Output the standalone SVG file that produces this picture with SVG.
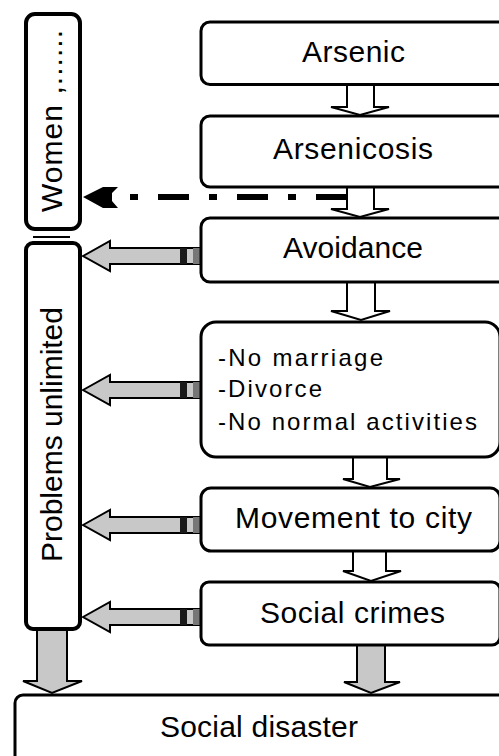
<svg xmlns="http://www.w3.org/2000/svg" width="499" height="756" viewBox="0 0 499 756">
<style>
.box{fill:#fff;stroke:#000;stroke-width:3}
.vbox{fill:#fff;stroke:#000;stroke-width:4}
.t{font-family:"Liberation Sans",Arial,sans-serif;font-size:30px;fill:#000}
.tl{font-family:"Liberation Sans",Arial,sans-serif;font-size:24px;fill:#000}
.wa{fill:#fff;stroke:#000;stroke-width:2}
.ga{fill:#c8c8c8;stroke:#000;stroke-width:2}
</style>
<defs>
<g id="harrow">
<path class="ga" d="M83,0 L110,-15 L110,-8 L200,-8 L200,8 L110,8 L110,15 Z"/>
<rect x="180" y="-8" width="7" height="16" fill="#1a1a1a"/>
<rect x="193" y="-8" width="7" height="16" fill="#777"/>
</g>
</defs>
<rect width="499" height="756" fill="#fff"/>
<g id="connectors">
<path class="wa" d="M347,84 V107 H331 L360,115 L389,107 H374 V84 Z"/>
<path class="wa" d="M347,187 V209 H331 L360,217 L389,209 H374 V187 Z"/>
<path class="wa" d="M347,282 V311 H331 L361,320 L390,311 H375 V282 Z"/>
<path class="wa" d="M353,457 V479 H343 L370,487 L400,479 H387 V457 Z"/>
<path class="wa" d="M353,551 V571 H343 L371,581 L401,571 H386 V551 Z"/>
<path class="ga" d="M357,645 V682 H344 L371,693 L400,682 H385 V645 Z"/>
<path class="ga" d="M37,630 V681 H23 L52,693 L82,681 H67 V630 Z"/>
<use href="#harrow" y="256"/>
<use href="#harrow" y="390"/>
<use href="#harrow" y="525"/>
<use href="#harrow" y="617"/>
<path d="M347,197 H118" stroke="#000" stroke-width="6" fill="none" stroke-dasharray="31 20 8 20"/>
<path d="M83,197 L103,187 L118,187 L112,193 L112,201 L118,208 L103,208 Z" fill="#000"/>
</g>
<g id="women">
<rect class="vbox" x="26" y="14" width="54" height="215" rx="9"/>
<text class="t" transform="translate(62,121) rotate(-90)" text-anchor="middle" textLength="182" lengthAdjust="spacing">Women ,......</text>
</g>
<g id="problems">
<line x1="33" y1="237" x2="70" y2="237" stroke="#000" stroke-width="2"/>
<rect class="vbox" x="26" y="243" width="54" height="386" rx="7"/>
<text class="t" transform="translate(62,434.5) rotate(-90)" text-anchor="middle" textLength="255" lengthAdjust="spacing">Problems unlimited</text>
</g>
<g id="arsenic">
<rect class="box" x="201" y="22" width="320" height="62.5" rx="9"/>
<text class="t" x="353.5" y="62" text-anchor="middle" textLength="103" lengthAdjust="spacing">Arsenic</text>
</g>
<g id="arsenicosis">
<rect class="box" x="201" y="116" width="320" height="71" rx="9"/>
<text class="t" x="353" y="159" text-anchor="middle" textLength="160" lengthAdjust="spacing">Arsenicosis</text>
</g>
<g id="avoidance">
<rect class="box" x="201" y="218" width="320" height="64" rx="9"/>
<text class="t" x="353" y="258" text-anchor="middle" textLength="140" lengthAdjust="spacing">Avoidance</text>
</g>
<g id="consequences">
<rect class="box" x="201" y="322" width="299" height="135" rx="15"/>
<text class="tl" x="218" y="366" textLength="165" lengthAdjust="spacing">-No marriage</text>
<text class="tl" x="218" y="397" textLength="104" lengthAdjust="spacing">-Divorce</text>
<text class="tl" x="218" y="430" textLength="259" lengthAdjust="spacing">-No normal activities</text>
</g>
<g id="movement">
<rect class="box" x="201" y="488" width="299" height="63" rx="10"/>
<text class="t" x="353.5" y="528" text-anchor="middle" textLength="237" lengthAdjust="spacing">Movement to city</text>
</g>
<g id="crimes">
<rect class="box" x="201" y="582" width="299" height="63" rx="8"/>
<text class="t" x="352.5" y="623" text-anchor="middle" textLength="185" lengthAdjust="spacing">Social crimes</text>
</g>
<g id="disaster">
<rect class="box" x="15" y="695" width="500" height="80" rx="8"/>
<text class="t" x="259" y="737" text-anchor="middle" textLength="198" lengthAdjust="spacing">Social disaster</text>
</g>
</svg>
